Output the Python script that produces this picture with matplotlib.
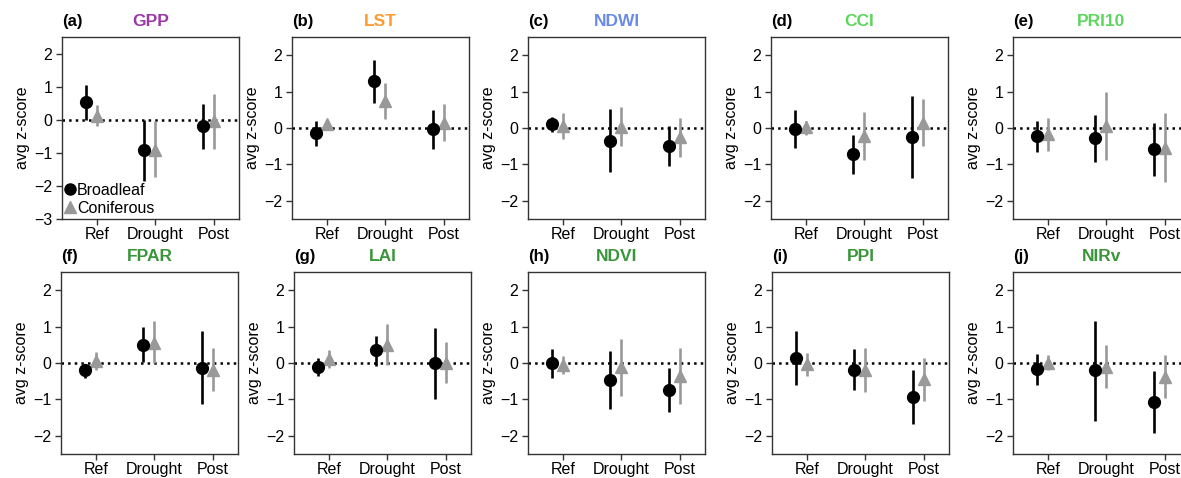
import numpy as np
import matplotlib
matplotlib.use("Agg")
import matplotlib.pyplot as plt
from matplotlib.lines import Line2D

plt.rcParams['font.family'] = ['Liberation Sans', 'DejaVu Sans']
plt.rcParams['font.size'] = 11.5

# panel data
letters = ['a', 'b', 'c', 'd', 'e', 'f', 'g', 'h', 'i', 'j']
indices = ['GPP', 'LST', 'NDWI', 'CCI', 'PRI10', 'FPAR', 'LAI', 'NDVI', 'PPI', 'NIRv']
title_colors = ['#9c3aa6', '#ff9a2e', '#6b8ce6', '#5cd65c', '#5cd65c',
                '#3b963b', '#3b963b', '#3b963b', '#3b963b', '#3b963b']
periods = ['Ref', 'Drought', 'Post']

# Broadleaf: mean, lower, upper (Ref, Drought, Post)
broad_mean = [[0.54, -0.92, -0.20], [-0.15, 1.28, -0.03], [0.12, -0.35, -0.50],
              [-0.02, -0.72, -0.26], [-0.22, -0.28, -0.58], [-0.20, 0.50, -0.13],
              [-0.12, 0.35, 0.00], [0.00, -0.47, -0.74], [0.15, -0.18, -0.93],
              [-0.17, -0.20, -1.07]]
broad_lo = [[0.00, -1.85, -0.88], [-0.50, 0.70, -0.58], [-0.10, -1.22, -1.05],
            [-0.55, -1.25, -1.38], [-0.65, -0.93, -1.32], [-0.40, 0.02, -1.12],
            [-0.35, -0.07, -1.00], [-0.42, -1.27, -1.35], [-0.60, -0.75, -1.67],
            [-0.60, -1.58, -1.92]]
broad_hi = [[1.05, 0.00, 0.47], [0.18, 1.88, 0.50], [0.30, 0.52, 0.05],
            [0.50, -0.20, 0.87], [0.20, 0.35, 0.15], [-0.02, 0.98, 0.88],
            [0.13, 0.75, 0.97], [0.38, 0.32, -0.14], [0.88, 0.38, -0.20],
            [0.25, 1.15, -0.23]]

# Coniferous: mean, lower, upper
conif_mean = [[0.12, -0.90, -0.05], [0.10, 0.75, 0.13], [0.05, 0.03, -0.25],
              [0.03, -0.22, 0.15], [-0.17, 0.05, -0.55], [0.05, 0.55, -0.20],
              [0.10, 0.50, 0.00], [-0.05, -0.12, -0.37], [-0.03, -0.20, -0.45],
              [0.00, -0.10, -0.38]]
conif_lo = [[-0.20, -1.72, -0.87], [0.02, 0.25, -0.35], [-0.30, -0.50, -0.80],
            [-0.20, -0.87, -0.50], [-0.62, -0.88, -1.48], [-0.18, 0.00, -0.77],
            [-0.13, -0.05, -0.55], [-0.30, -0.90, -1.13], [-0.37, -0.80, -1.05],
            [-0.20, -0.70, -0.95]]
conif_hi = [[0.45, -0.05, 0.77], [0.15, 1.25, 0.65], [0.40, 0.57, 0.27],
            [0.20, 0.43, 0.80], [0.28, 1.00, 0.40], [0.30, 1.15, 0.40],
            [0.35, 1.07, 0.57], [0.18, 0.65, 0.40], [0.28, 0.42, 0.15],
            [0.23, 0.50, 0.23]]

W, H = 1181, 478
fig = plt.figure(figsize=(W / 100, H / 100), dpi=100)

# axes boxes in pixels: left, top, right, bottom
top_lefts = [62, 292, 528, 771, 1013]
bot_lefts = [61, 294, 528, 772, 1013]
boxes = [(l, 37, l + 177, 219) for l in top_lefts] + \
        [(l, 272, l + 177, 454) for l in bot_lefts]

x = np.arange(1, 4)
gray = '#999999'
for k in range(10):
    l, t, r, b = boxes[k]
    ax = fig.add_axes([l / W, 1 - b / H, (r - l) / W, (b - t) / H])
    ax.axhline(0, color='black', ls=':', lw=1.8, zorder=1)

    bm = np.array(broad_mean[k]); cm = np.array(conif_mean[k])
    berr = [bm - np.array(broad_lo[k]), np.array(broad_hi[k]) - bm]
    cerr = [cm - np.array(conif_lo[k]), np.array(conif_hi[k]) - cm]
    ax.errorbar(x - 0.19, bm, yerr=berr, fmt='o', color='black', ms=8.5,
                elinewidth=1.9, capsize=0, zorder=3)
    ax.errorbar(x, cm, yerr=cerr, fmt='^', color=gray, ms=8,
                elinewidth=1.9, capsize=0, zorder=2)

    ax.set_xlim(0.4, 3.43)
    if k == 0:
        ax.set_ylim(-3, 2.5)
        ax.set_yticks([-3, -2, -1, 0, 1, 2])
    else:
        ax.set_ylim(-2.5, 2.5)
        ax.set_yticks([-2, -1, 0, 1, 2])
    ax.set_xticks(x)
    ax.set_xticklabels(periods)
    ax.set_ylabel('avg z-score', labelpad=3)
    ax.tick_params(length=4, width=1, color='#333333', pad=3)
    ax.tick_params(axis='x', pad=2)
    for s in ax.spines.values():
        s.set_color('#333333')
        s.set_linewidth(1)

    ax.set_title('(' + letters[k] + ')', loc='left', fontweight='bold',
                 fontsize=12, pad=8)
    ax.set_title(indices[k], loc='center', fontweight='bold', fontsize=12.5,
                 color=title_colors[k], pad=8)

    if k == 0:
        handles = [Line2D([], [], marker='o', ls='', color='black', ms=8),
                   Line2D([], [], marker='^', ls='', color=gray, ms=8)]
        ax.legend(handles, ['Broadleaf', 'Coniferous'], loc='lower left',
                  frameon=False, handlelength=0.6, handletextpad=0.15,
                  borderaxespad=0.1, borderpad=0.1, labelspacing=0.2)

fig.savefig('out.png', dpi=100)
